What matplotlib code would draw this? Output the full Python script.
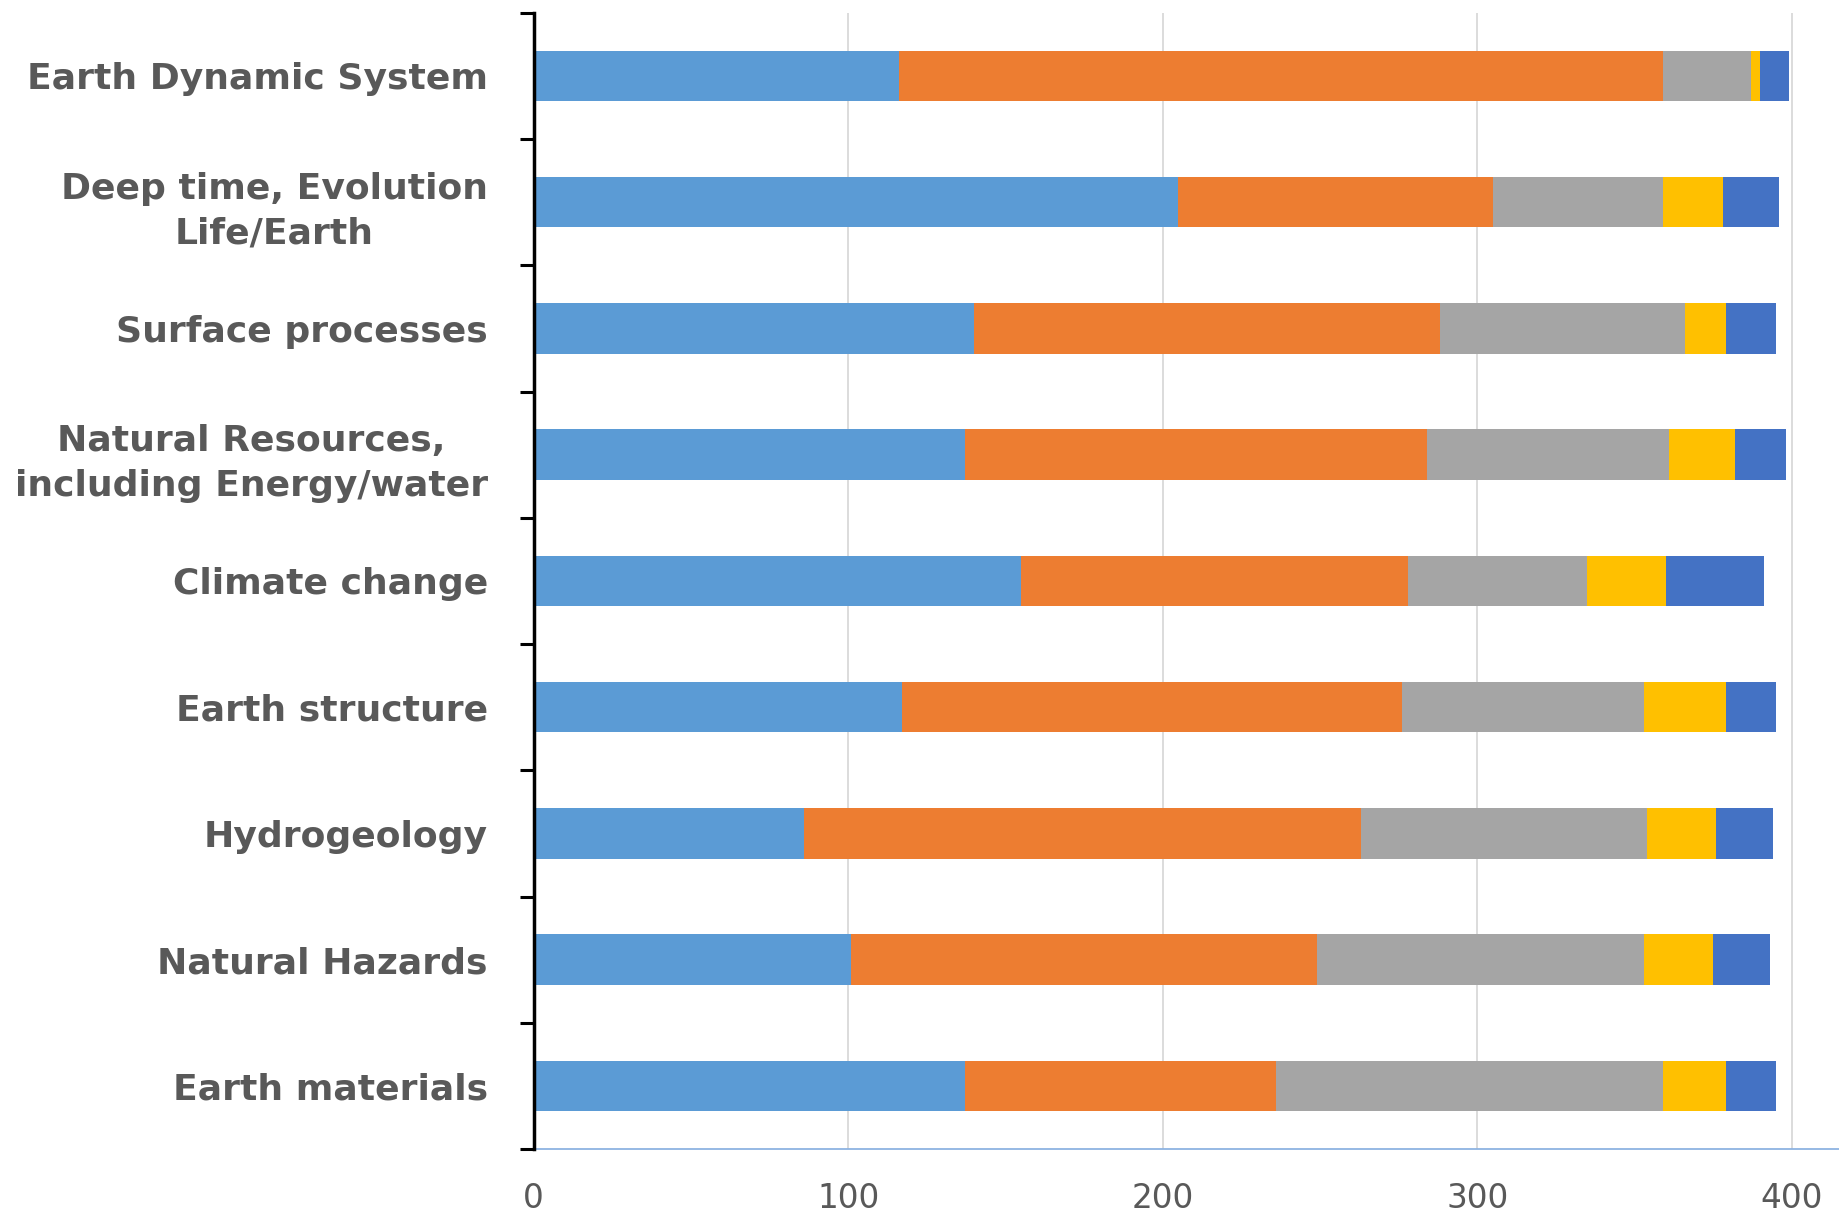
import matplotlib
matplotlib.use("Agg")
import matplotlib.pyplot as plt
import numpy as np

# categories listed bottom to top
categories = [
    "Earth materials",
    "Natural Hazards",
    "Hydrogeology",
    "Earth structure",
    "Climate change",
    "Natural Resources,\nincluding Energy/water",
    "Surface processes",
    "Deep time, Evolution\nLife/Earth",
    "Earth Dynamic System",
]

seg_1 = [137, 101, 86, 117, 155, 137, 140, 205, 116]
seg_2 = [99, 148, 177, 159, 123, 147, 148, 100, 243]
seg_3 = [123, 104, 91, 77, 57, 77, 78, 54, 28]
seg_4 = [20, 22, 22, 26, 25, 21, 13, 19, 3]
seg_5 = [16, 18, 18, 16, 31, 16, 16, 18, 9]
colors = ["#5B9BD5", "#ED7D31", "#A5A5A5", "#FFC000", "#4472C4"]
x_ticks = [0, 100, 200, 300, 400]

fig = plt.figure(figsize=(18.39, 12.15), dpi=100)
ax = fig.add_axes([0.2902, 0.0543, 0.7098, 0.9352])

y = np.arange(len(categories))
left = np.zeros(len(categories))
for vals, c in zip([seg_1, seg_2, seg_3, seg_4, seg_5], colors):
    ax.barh(y, vals, left=left, height=0.4, color=c, zorder=3)
    left += np.array(vals)

ax.set_ylim(-0.5, len(categories) - 0.5)
ax.set_xlim(0, 415)

ax.set_xticks(x_ticks)
ax.set_xticklabels([str(t) for t in x_ticks], family="DejaVu Sans")
ax.tick_params(axis="x", length=0, pad=24, labelsize=23.5, labelcolor="#595959")
ax.grid(axis="x", color="#D9D9D9", linewidth=1.3, zorder=0)

# tick marks sit on category boundaries, labels on the centres
ax.set_yticks(np.arange(-0.5, len(categories), 1.0))
ax.set_yticklabels([])
ax.tick_params(axis="y", which="major", length=10, width=2.2, color="black",
               direction="out")
ax.set_yticks(y, minor=True)
ax.set_yticklabels(categories, minor=True, fontweight="bold",
                   family="DejaVu Sans", multialignment="center",
                   linespacing=1.4)
ax.tick_params(axis="y", which="minor", length=0, pad=33, labelsize=26,
               labelcolor="#595959")

for side in ["top", "right"]:
    ax.spines[side].set_visible(False)
ax.spines["left"].set_color("black")
ax.spines["left"].set_linewidth(2.5)
ax.spines["left"].set_zorder(5)
ax.spines["bottom"].set_color("#8DB3E2")
ax.spines["bottom"].set_linewidth(1.3)

fig.savefig("out.png", dpi=100, facecolor="white")
